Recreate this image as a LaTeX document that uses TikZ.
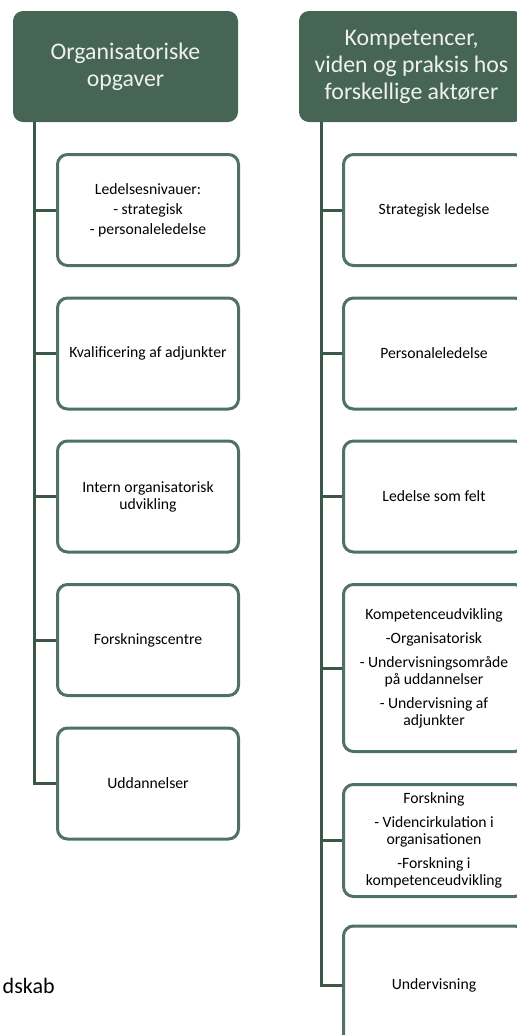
\documentclass[tikz,border=0pt]{standalone}
\usepackage{fontspec}
\setmainfont{Carlito}
\usepackage{tikz}
\usetikzlibrary{calc}
\definecolor{headgreen}{HTML}{466555}
\definecolor{trunkgreen}{HTML}{3B5747}
\definecolor{boxgreen}{HTML}{4F7262}
\newcommand{\thickness}{1.5pt}
\newcommand{\boxw}{90.5pt}
\newcommand{\boxh}{55.5pt}
\tikzset{
  head/.style={fill=headgreen, rounded corners=5pt, minimum width=112.5pt, minimum height=55.5pt, inner sep=0pt, align=center, text=white!94!black, font=\fontsize{11.9}{13.5}\selectfont},
  item/.style={draw=boxgreen, line width=\thickness, fill=white, rounded corners=5pt, minimum width=\boxw, minimum height=\boxh, inner sep=0pt, align=center, font=\fontsize{7.85}{8.5}\selectfont},
  trunk/.style={draw=trunkgreen, line width=\thickness}
}
\begin{document}
\begin{tikzpicture}[x=0.5pt, y=-0.5pt]
\clip (0,0) rectangle (517,1035);
%org
\node[head] (org) at (125.5, 66.5) {Organisatoriske\\opgaver};
\node[item] (o1) at (148, 210) {Ledelsesnivauer:\\[1.5pt]- strategisk\\[1.5pt]- personaleledelse};
\node[item] (o2) at (148, 353.5) {Kvalificering af adjunkter};
\node[item] (o3) at (148, 496.5) {Intern organisatorisk\\udvikling};
\node[item] (o4) at (148, 640) {Forskningscentre};
\node[item] (o5) at (148, 783.5) {Uddannelser};
\coordinate (ot) at (34, 122);
\draw[trunk] (ot) |- (o5.west);
\draw[trunk] (ot |- o1.west) -- (o1.west);
\draw[trunk] (ot |- o2.west) -- (o2.west);
\draw[trunk] (ot |- o3.west) -- (o3.west);
\draw[trunk] (ot |- o4.west) -- (o4.west);
%komp
\node[head] (komp) at (411.5, 66.5) {Kompetencer,\\viden og praksis hos\\forskellige akt\o rer};
\node[item] (k1) at (434, 210) {Strategisk ledelse};
\node[item] (k2) at (434, 353.5) {Personaleledelse};
\node[item] (k3) at (434, 496.5) {Ledelse som felt};
\node[item, minimum height=83.5pt] (k4) at (434, 668) {Kompetenceudvikling\\[3.5pt]-Organisatorisk\\[3.5pt]- Undervisningsområde\\på uddannelser\\[3.5pt]- Undervisning af\\adjunkter};
\node[item, minimum height=56pt] (k5) at (434, 840.5) {Forskning\\[3.5pt]- Videncirkulation i\\organisationen\\[3.5pt]-Forskning i\\kompetenceudvikling};
\node[item, minimum height=59pt] (k6) at (434, 985) {Undervisning};
\coordinate (kt) at (321, 122);
\draw[trunk] (kt) |- (k6.west);
\draw[trunk] (kt |- k1.west) -- (k1.west);
\draw[trunk] (kt |- k2.west) -- (k2.west);
\draw[trunk] (kt |- k3.west) -- (k3.west);
\draw[trunk] (kt |- k4.west) -- (k4.west);
\draw[trunk] (kt |- k5.west) -- (k5.west);
%rest
\node[anchor=base east, inner sep=0pt, font=\fontsize{11}{13}\selectfont] (rest) at (55, 993) {dskab};
\end{tikzpicture}
\end{document}
